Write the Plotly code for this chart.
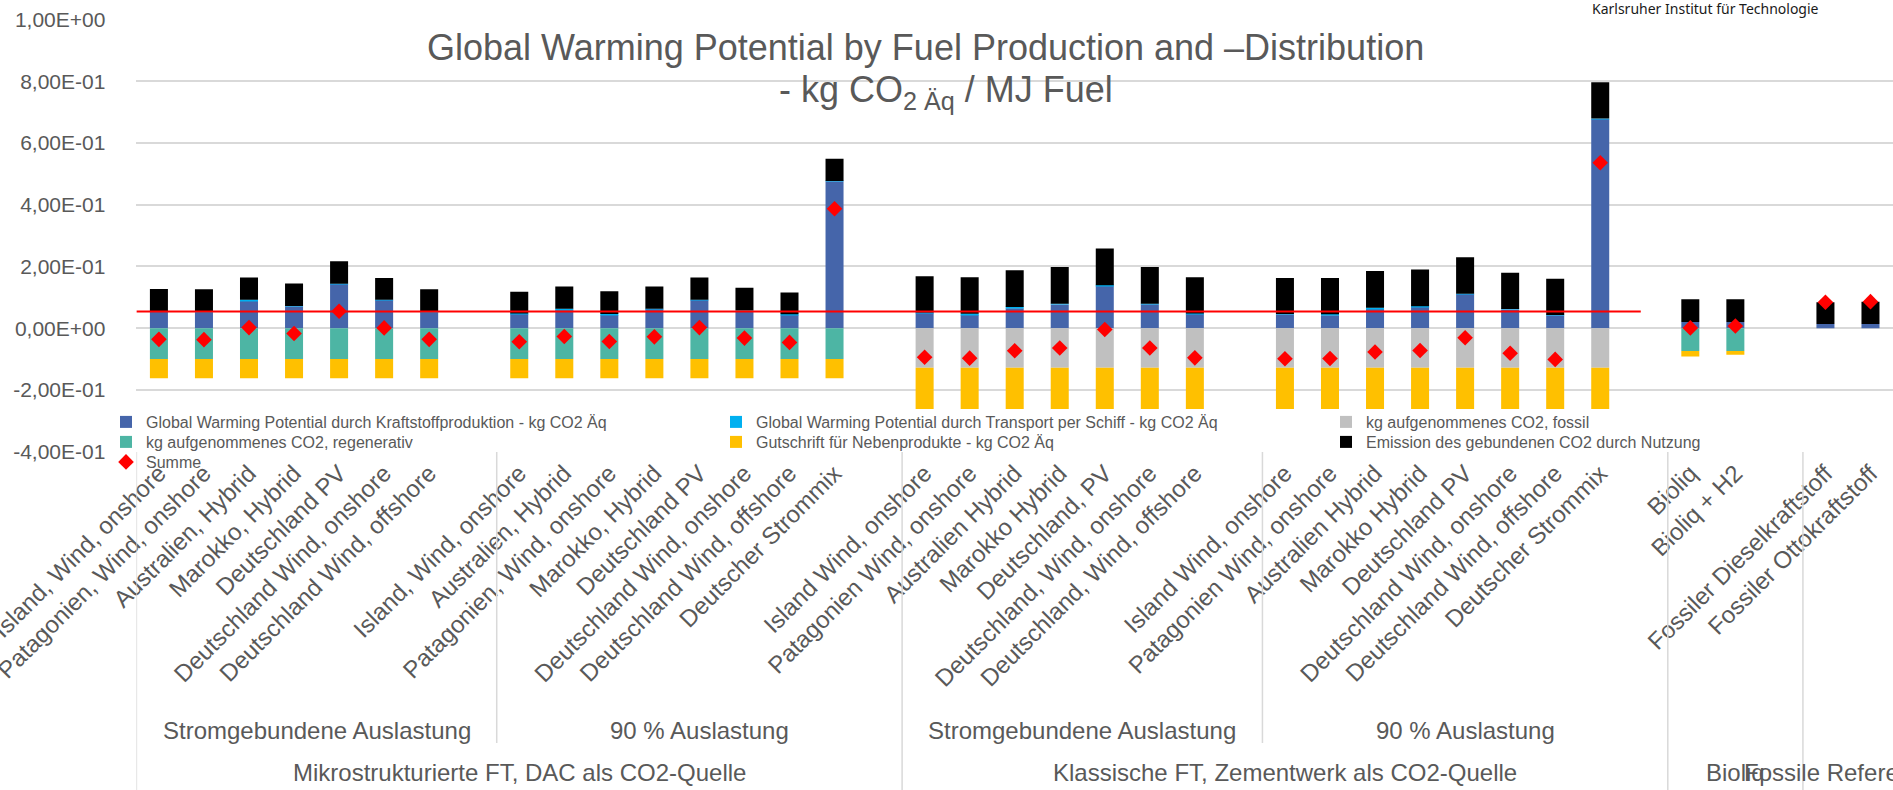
import plotly.graph_objects as go

W, H = 1893, 790

# ---- categories (blank entries are spacer slots between groups) ----
labels = [
    "Island, Wind, onshore", "Patagonien, Wind, onshore", "Australien, Hybrid", "Marokko, Hybrid",
    "Deutschland PV", "Deutschland Wind, onshore", "Deutschland Wind, offshore", "",
    "Island, Wind, onshore", "Australien, Hybrid", "Patagonien, Wind, onshore", "Marokko, Hybrid",
    "Deutschland PV", "Deutschland Wind, onshore", "Deutschland Wind, offshore", "Deutscher Strommix", "",
    "Island Wind, onshore", "Patagonien Wind, onshore", "Australien Hybrid", "Marokko Hybrid",
    "Deutschland, PV", "Deutschland, Wind, onshore", "Deutschland, Wind, offshore", "",
    "Island Wind, onshore", "Patagonien Wind, onshore", "Australien Hybrid", "Marokko Hybrid",
    "Deutschland PV", "Deutschland Wind, onshore", "Deutschland Wind, offshore", "Deutscher Strommix", "",
    "Bioliq", "Bioliq + H2", "",
    "Fossiler Dieselkraftstoff", "Fossiler Ottokraftstoff",
]

# ---- series values, kg CO2 Äq / MJ ----
produktion = [0.055, 0.054, 0.089, 0.071, 0.143, 0.091, 0.053, None,
              0.046, 0.060, 0.043, 0.062, 0.091, 0.056, 0.043, 0.476, None,
              0.049, 0.044, 0.065, 0.077, 0.138, 0.078, 0.046, None,
              0.045, 0.042, 0.062, 0.070, 0.111, 0.061, 0.042, 0.678, None,
              0.020, 0.020, None,
              0.014, 0.014]
transport = [0.001, 0.001, 0.003, 0.001, 0.001, 0.001, 0.001, None,
             0.002, 0.003, 0.003, 0.001, 0.001, 0.001, 0.002, 0.001, None,
             0.002, 0.003, 0.004, 0.002, 0.001, 0.001, 0.002, None,
             0.001, 0.003, 0.004, 0.001, 0.001, 0.001, 0.001, 0.001, None,
             None, None, None,
             None, None]
co2_fossil = [None, None, None, None, None, None, None, None,
              None, None, None, None, None, None, None, None, None,
              -0.128, -0.128, -0.128, -0.128, -0.128, -0.128, -0.128, None,
              -0.128, -0.128, -0.128, -0.128, -0.128, -0.128, -0.128, -0.128, None,
              None, None, None,
              None, None]
co2_regenerativ = [-0.100, -0.100, -0.100, -0.100, -0.100, -0.100, -0.100, None,
                   -0.100, -0.100, -0.100, -0.100, -0.100, -0.100, -0.100, -0.100, None,
                   None, None, None, None, None, None, None, None,
                   None, None, None, None, None, None, None, None, None,
                   -0.074, -0.074, None,
                   None, None]
gutschrift = [-0.062, -0.062, -0.062, -0.062, -0.062, -0.062, -0.062, None,
              -0.062, -0.062, -0.062, -0.062, -0.062, -0.062, -0.062, -0.062, None,
              -0.134, -0.134, -0.134, -0.134, -0.134, -0.134, -0.134, None,
              -0.134, -0.134, -0.134, -0.134, -0.134, -0.134, -0.134, -0.134, None,
              -0.018, -0.012, None,
              None, None]
nutzung = [0.071, 0.071, 0.072, 0.073, 0.073, 0.071, 0.072, None,
           0.070, 0.072, 0.074, 0.072, 0.072, 0.074, 0.0705, 0.072, None,
           0.1175, 0.118, 0.119, 0.119, 0.119, 0.119, 0.117, None,
           0.117, 0.118, 0.119, 0.119, 0.118, 0.118, 0.117, 0.118, None,
           0.074, 0.074, None,
           0.070, 0.072]
summe = [-0.036, -0.037, 0.002, -0.017, 0.055, 0.001, -0.036, None,
         -0.044, -0.027, -0.043, -0.028, 0.002, -0.032, -0.046, 0.387, None,
         -0.094, -0.097, -0.073, -0.064, -0.004, -0.064, -0.096, None,
         -0.099, -0.098, -0.077, -0.072, -0.031, -0.081, -0.101, 0.536, None,
         0.001, 0.007, None,
         0.084, 0.086]

referenzlinie = 0.054

y_ticks = [-0.4, -0.2, 0.0, 0.2, 0.4, 0.6, 0.8, 1.0]
y_ticktext = ["-4,00E-01", "-2,00E-01", "0,00E+00", "2,00E-01", "4,00E-01", "6,00E-01", "8,00E-01", "1,00E+00"]

# group spans as (first slot, last slot, label)
ebene2 = [(-0.5, 7.5, "Stromgebundene Auslastung"), (7.5, 16.5, "90 % Auslastung"),
          (16.5, 24.5, "Stromgebundene Auslastung"), (24.5, 33.5, "90 % Auslastung")]
ebene1 = [(-0.5, 16.5, "Mikrostrukturierte FT, DAC als CO2-Quelle"),
          (16.5, 33.5, "Klassische FT, Zementwerk als CO2-Quelle"),
          (33.5, 36.5, "Bioliq")]

FONT = "Liberation Sans, Arial, sans-serif"
GREY_TXT = "#595959"
GRID = "#D9D9D9"

x = list(range(len(labels)))
tick_pos = [i for i, t in enumerate(labels) if t]
tick_txt = [t for t in labels if t]

fig = go.Figure()
# (name, values, colour, legend row)
series = [
    ("Global Warming Potential durch Kraftstoffproduktion - kg CO2 Äq", produktion, "#4565AA", "legend"),
    ("Global Warming Potential durch Transport per Schiff - kg CO2 Äq", transport, "#00B0F0", "legend"),
    ("kg aufgenommenes CO2, fossil", co2_fossil, "#C0C0C0", "legend"),
    ("kg aufgenommenes CO2, regenerativ", co2_regenerativ, "#4DB5A4", "legend2"),
    ("Gutschrift für Nebenprodukte - kg CO2 Äq", gutschrift, "#FFC000", "legend2"),
    ("Emission des gebundenen CO2 durch Nutzung", nutzung, "#000000", "legend2"),
]
for name, vals, col, leg in series:
    fig.add_trace(go.Bar(x=x, y=vals, name=name, legend=leg,
                         marker=dict(color=col, line=dict(width=0))))

fig.add_trace(go.Scatter(x=x, y=summe, name="Summe", mode="markers", legend="legend3",
                         marker=dict(symbol="diamond", size=12, color="#FF0000")))

x_dom0 = 136.4 / W
y_dom = [1 - 451.7 / H, 1 - 19.5 / H]


def py(px):
    return 1 - px / H


shapes = [
    dict(type="line", xref="x", yref="y", x0=-0.5, x1=32.9, y0=referenzlinie, y1=referenzlinie,
         line=dict(color="#FF0000", width=2), layer="above"),
]
# group separators below the axis
for xv in [-0.5, 16.5, 33.5, 36.5]:
    shapes.append(dict(type="line", xref="x", yref="paper", x0=xv, x1=xv, y0=py(452), y1=0,
                       line=dict(color=GRID, width=1.5)))
for xv in [7.5, 24.5]:
    shapes.append(dict(type="line", xref="x", yref="paper", x0=xv, x1=xv, y0=py(452), y1=py(743),
                       line=dict(color=GRID, width=1.5)))

annotations = [
    dict(text="Global Warming Potential by Fuel Production and \u2013Distribution", xref="paper", yref="paper",
         x=925 / W, y=py(48), xanchor="center", yanchor="middle", showarrow=False,
         font=dict(family=FONT, size=36, color=GREY_TXT)),
    dict(text="- kg CO<sub>2 Äq</sub> / MJ Fuel", xref="paper", yref="paper",
         x=946 / W, y=py(92), xanchor="center", yanchor="middle", showarrow=False,
         font=dict(family=FONT, size=36, color=GREY_TXT)),
    dict(text="Karlsruher Institut für Technologie", xref="paper", yref="paper",
         x=1705 / W, y=py(9), xanchor="center", yanchor="middle", showarrow=False,
         font=dict(family="Noto Sans, sans-serif", size=14, color="#1A1A1A")),
]
for a, b, t in ebene2:
    annotations.append(dict(text=t, xref="x", yref="paper", x=(a + b) / 2, y=py(730),
                            xanchor="center", yanchor="middle", showarrow=False,
                            font=dict(family=FONT, size=24, color=GREY_TXT)))
for a, b, t in ebene1:
    annotations.append(dict(text=t, xref="x", yref="paper", x=(a + b) / 2, y=py(772),
                            xanchor="center", yanchor="middle", showarrow=False,
                            font=dict(family=FONT, size=24, color=GREY_TXT)))
annotations.append(dict(text="Fossile Referenz", xref="paper", yref="paper", x=1742 / W, y=py(772),
                        xanchor="left", yanchor="middle", showarrow=False,
                        font=dict(family=FONT, size=24, color=GREY_TXT)))

legend_common = dict(orientation="h", xanchor="left", yanchor="top",
                     entrywidth=565, entrywidthmode="pixels", bgcolor="rgba(0,0,0,0)",
                     font=dict(family=FONT, size=16, color=GREY_TXT), traceorder="normal",
                     itemclick=False, itemdoubleclick=False)

fig.update_layout(
    width=W, height=H, autosize=False,
    margin=dict(l=0, r=0, t=0, b=0, pad=0, autoexpand=False),
    paper_bgcolor="white", plot_bgcolor="white",
    barmode="relative", bargap=0.6,
    font=dict(family=FONT, color=GREY_TXT),
    xaxis=dict(domain=[x_dom0, 1], range=[-0.5, len(labels) - 0.5], tickmode="array",
               tickvals=tick_pos, ticktext=tick_txt, tickangle=-45, showgrid=False, zeroline=False,
               showline=False, ticks="", ticklabelstandoff=2, ticklabeloverflow="allow",
               automargin=False, tickfont=dict(family=FONT, size=24, color=GREY_TXT)),
    yaxis=dict(domain=y_dom, range=[-0.4, 1.0], tickmode="array", tickvals=y_ticks, ticktext=y_ticktext,
               showgrid=True, gridcolor=GRID, gridwidth=1.5, zeroline=False, showline=False,
               ticks="", ticklabelstandoff=30, automargin=False,
               tickfont=dict(family=FONT, size=21, color=GREY_TXT)),
    legend=dict(x=106 / W, y=py(405), **legend_common),
    legend2=dict(x=106 / W, y=py(425), **legend_common),
    legend3=dict(x=106 / W, y=py(445), **legend_common),
    shapes=shapes, annotations=annotations,
)

fig.write_html("out.html")
